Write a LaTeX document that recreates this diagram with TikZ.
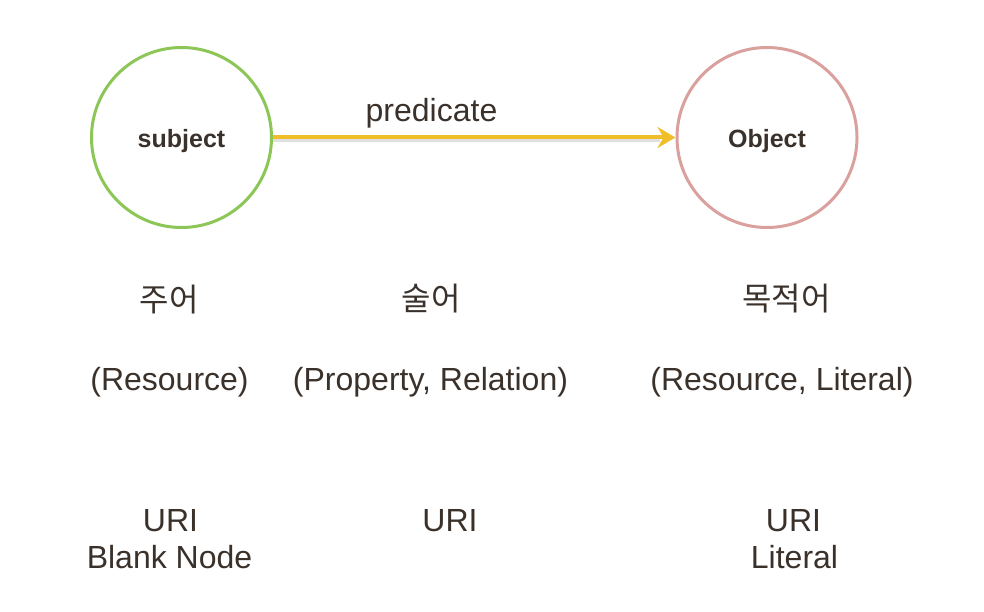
\documentclass[tikz,border=0pt]{standalone}
\usepackage{fontspec}
\setmainfont{Liberation Sans}
\newfontfamily\korfont{Noto Sans CJK KR}
\usetikzlibrary{arrows.meta}
\definecolor{textbrown}{HTML}{3B312B}
\definecolor{subjgreen}{HTML}{8CC657}
\definecolor{objpink}{HTML}{D9A09E}
\definecolor{predyellow}{HTML}{F0BE28}
\begin{document}
\begin{tikzpicture}[x=1pt,y=-1pt,
    term/.style={circle,draw,line width=3pt,minimum size=180pt,inner sep=0pt,
      text height=21pt,text depth=0pt,
      text=textbrown,font=\fontsize{25}{30}\selectfont\bfseries},
    roletext/.style={text=textbrown,font=\fontsize{32}{37}\selectfont,anchor=base,inner sep=0pt},
    kortext/.style={text=textbrown,font=\korfont\fontsize{32}{37}\selectfont,inner sep=0pt}]
      \useasboundingbox (0,0) rectangle (984,612);
      \node[term,draw=subjgreen] (subj) at (181.5,137.5) {subject};
      \node[term,draw=objpink] (obj) at (767,137.5) {Object};
      \draw[black!12,line width=3pt] ([yshift=-3pt]subj.east) -- ([yshift=-3pt,xshift=-16pt]obj.west);
      \draw[-{Stealth[length=18pt,width=21pt,inset=6pt]},predyellow,line width=4pt] (subj) -- (obj);
      \node[roletext] (pred) at (431.5,122) {predicate};
      \node[kortext] (subjko) at (169,300) {주어};
      \node[kortext] (predko) at (431,299) {술어};
      \node[kortext] (objko) at (786.5,299) {목적어};
      \node[roletext] (subjkind) at (169.5,390) {(Resource)};
      \node[roletext] (predkind) at (430.5,390) {(Property, Relation)};
      \node[roletext] (objkind) at (782,390) {(Resource, Literal)};
      \node[roletext] (subjuri) at (170.5,531) {URI};
      \node[roletext] (subjblank) at (169.5,568) {Blank Node};
      \node[roletext] (preduri) at (450,531) {URI};
      \node[roletext] (objuri) at (793.5,531) {URI};
      \node[roletext] (objlit) at (794.5,568) {Literal};
    \end{tikzpicture}
\end{document}
